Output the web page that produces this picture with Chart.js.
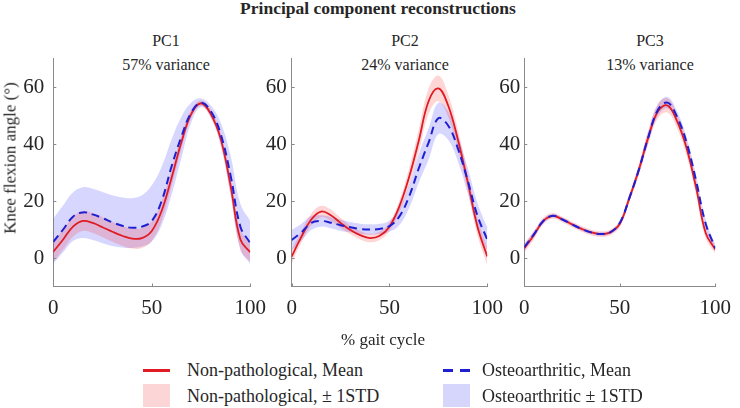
<!DOCTYPE html>
<html>
<head>
<meta charset="utf-8">
<script src="https://cdn.jsdelivr.net/npm/chart.js@4.4.1/dist/chart.umd.min.js"></script>
<style>
  html, body { margin: 0; padding: 0; background: #fff; }
  #wrap {
    position: relative; width: 740px; height: 408px; overflow: hidden;
    font-family: "Liberation Serif", "Times New Roman", serif; color: #262626;
  }
  .panel { position: absolute; top: 0; }
  .t { position: absolute; white-space: nowrap; line-height: 1; transform: translate(-50%, -50%); }
  .lg { position: absolute; white-space: nowrap; line-height: 1; font-size: 18px; transform: translateY(-50%); }
  .mk { position: absolute; }
</style>
</head>
<body>
<div id="wrap">
  <div class="t" style="left:378px;top:9px;font-size:17.5px;font-weight:bold;">Principal component reconstructions</div>

  <div class="t" style="left:166px;top:41px;font-size:16px;">PC1</div>
  <div class="t" style="left:166px;top:65px;font-size:16px;">57% variance</div>
  <div class="t" style="left:405px;top:41px;font-size:16px;">PC2</div>
  <div class="t" style="left:405px;top:65px;font-size:16px;">24% variance</div>
  <div class="t" style="left:650px;top:41px;font-size:16px;">PC3</div>
  <div class="t" style="left:650px;top:65px;font-size:16px;">13% variance</div>

  <canvas id="c1" class="panel" width="275" height="320" style="left:0px"></canvas>
  <canvas id="c2" class="panel" width="262" height="320" style="left:250px"></canvas>
  <canvas id="c3" class="panel" width="255" height="320" style="left:485px"></canvas>

  <div class="t" style="left:10px;top:158px;font-size:17px;transform:translate(-50%,-50%) rotate(-90deg);">Knee flexion angle (°)</div>
  <div class="t" style="left:383px;top:339px;font-size:17px;">% gait cycle</div>

  <div class="mk" style="left:143px;top:369px;width:27px;height:2.5px;background:#e01b24;"></div>
  <div class="lg" style="left:187px;top:370px;">Non-pathological, Mean</div>
  <div class="mk" style="left:443px;top:369px;width:10px;height:2.5px;background:#1f1fd2;"></div>
  <div class="mk" style="left:460px;top:369px;width:10px;height:2.5px;background:#1f1fd2;"></div>
  <div class="lg" style="left:482px;top:370px;">Osteoarthritic, Mean</div>

  <div class="mk" style="left:143px;top:384px;width:27px;height:23px;background:#fcd6d6;"></div>
  <div class="lg" style="left:187px;top:396px;">Non-pathological, ± 1STD</div>
  <div class="mk" style="left:443px;top:384px;width:27px;height:23px;background:#d6d6fc;"></div>
  <div class="lg" style="left:482px;top:396px;">Osteoarthritic ± 1STD</div>
</div>

<script>
// % gait cycle, sampled every 5%
const GAIT = [0, 5, 10, 15, 20, 25, 30, 35, 40, 45, 50, 55, 60, 65, 70, 75, 80, 85, 90, 95, 100];
const X_TICKS = [0, 50, 100];
const Y_TICKS = [0, 20, 40, 60];

// PC1
const PC1_NP_MEAN = [2.2, 6.5, 11, 13, 12.3, 10.8, 9.2, 7.8, 6.8, 7.0, 9.5, 16.5, 28, 40.5, 50.5, 54.3, 50.5, 41.8, 25.5, 6.5, 2];
const PC1_NP_LO = [-1.3, 3, 7.5, 9.5, 8.8, 7.3, 5.7, 4.3, 3.3, 3.5, 6, 13, 25, 38, 49, 53.3, 49, 39.8, 22.5, 3, -1.5];
const PC1_NP_HI = [5.7, 10, 14.5, 16.5, 15.8, 14.3, 12.7, 11.3, 10.3, 10.5, 13, 20, 31, 43, 52, 55.3, 52, 43.8, 28.5, 10, 5.5];
const PC1_OA_MEAN = [5.7, 10, 14.5, 16, 15.3, 14, 12.5, 11.3, 10.6, 11, 13, 20, 32, 42.5, 51, 54.5, 51.5, 43.5, 29, 11, 5.2];
const PC1_OA_LO = [-2, 2, 6, 7, 6.3, 5.2, 4.2, 3.7, 3.5, 4, 5.8, 11.5, 22, 35, 47.5, 53, 49.5, 39.5, 22, 3, -2];
const PC1_OA_HI = [13.8, 18.5, 23, 24.8, 24.3, 23.2, 22, 21.2, 21, 22, 25.5, 32, 41.5, 49.5, 54.5, 56, 53.5, 47.5, 36, 19, 13];

// PC2
const PC2_NP_MEAN = [0.5, 7.5, 13.5, 16.3, 15, 12.3, 9.8, 8, 7, 7.8, 11, 18, 28.3, 41.2, 55, 59.5, 53.5, 41.5, 26.7, 11, 0.5];
const PC2_NP_LO = [-2, 5.5, 11.5, 14.3, 13, 10.5, 8.3, 6.5, 5.5, 6.3, 9.5, 16, 25.3, 37.2, 50.5, 55, 49.5, 38, 23.7, 8, -2.5];
const PC2_NP_HI = [3, 9.5, 15.5, 18.3, 17, 14.1, 11.3, 9.5, 8.5, 9.3, 12.5, 20, 31.3, 45.2, 59.5, 64, 57.5, 45, 29.7, 14, 3.5];
const PC2_OA_MEAN = [6.3, 9, 12.3, 13, 12.4, 11.5, 10.8, 10.2, 10, 10.2, 11.2, 14.5, 21.5, 31.5, 40.5, 49, 46.5, 38.4, 27.2, 14.8, 6.5];
const PC2_OA_LO = [2.8, 6, 9.8, 11, 10.4, 9.5, 9, 8.4, 8.2, 8.4, 9.2, 11.5, 17.5, 26.5, 34.5, 43.5, 41.5, 33.9, 22.7, 10.3, 2.5];
const PC2_OA_HI = [9.8, 12, 14.8, 15, 14.4, 13.5, 12.6, 12, 11.8, 12, 13.2, 17.5, 25.5, 36.5, 45.5, 54.5, 51.5, 42.9, 31.7, 19.3, 10.5];

// PC3
const PC3_NP_MEAN = [3.4, 8, 13, 14.8, 13.5, 11.8, 10.2, 9, 8.4, 9, 12, 21, 31, 42.5, 51.5, 53.5, 48, 38.5, 24.6, 8.8, 3];
const PC3_NP_LO = [1.9, 6.5, 11.8, 13.8, 12.5, 10.8, 9.2, 8, 7.4, 8, 10.8, 19.5, 29, 40, 49, 51, 45.5, 36, 22.1, 6.8, 1.5];
const PC3_NP_HI = [4.9, 9.5, 14.2, 15.8, 14.5, 12.8, 11.2, 10, 9.4, 10, 13.2, 22.5, 33, 45, 54, 56, 50.5, 41, 27.1, 10.8, 4.5];
const PC3_OA_MEAN = [3.8, 8.3, 13, 14.8, 13.5, 11.8, 10.2, 9, 8.4, 9, 12.3, 21, 31, 42.5, 52, 54.5, 49.5, 40.5, 27, 12, 3.5];
const PC3_OA_LO = [2.6, 7.3, 12.2, 14.2, 12.9, 11.2, 9.6, 8.4, 7.8, 8.4, 11.5, 19.8, 29.5, 40.5, 50, 52.5, 47.5, 38.5, 25, 10.5, 2.3];
const PC3_OA_HI = [5, 9.3, 13.8, 15.4, 14.1, 12.4, 10.8, 9.6, 9, 9.6, 13.1, 22.2, 32.5, 44.5, 54, 56.5, 51.5, 42.5, 29, 13.5, 4.7];

const FONT = '"Liberation Serif", "Times New Roman", serif';
const AXIS = "#8a8a8a";
const RED = "#e01b24";
const BLUE = "#1f1fd2";
const RED_BAND = "rgba(255, 0, 0, 0.16)";
const BLUE_BAND = "rgba(0, 0, 255, 0.16)";

Chart.defaults.font.family = FONT;

function pts(values) {
  return GAIT.map((x, i) => ({ x, y: values[i] }));
}

// MATLAB style ticks, pointing into the plot
const inwardTicks = {
  id: "inwardTicks",
  afterDraw(chart) {
    const { ctx, chartArea: a, scales } = chart;
    ctx.save();
    ctx.strokeStyle = AXIS;
    ctx.lineWidth = 1;
    ctx.beginPath();
    X_TICKS.forEach((v) => {
      const p = Math.round(scales.x.getPixelForValue(v)) + 0.5;
      ctx.moveTo(p, a.bottom);
      ctx.lineTo(p, a.bottom - 3);
    });
    Y_TICKS.forEach((v) => {
      const p = Math.round(scales.y.getPixelForValue(v)) + 0.5;
      ctx.moveTo(a.left, p);
      ctx.lineTo(a.left + 3, p);
    });
    ctx.stroke();
    ctx.restore();
  },
};

function buildPanel(id, yWidth, yPad, padRight, s) {
  const bandLine = { borderWidth: 0, borderColor: "transparent", pointRadius: 0, tension: 0.4 };
  new Chart(document.getElementById(id), {
    type: "line",
    data: {
      datasets: [
        { ...bandLine, data: pts(s.npHi), backgroundColor: RED_BAND, fill: "+1", order: 10 },
        { ...bandLine, data: pts(s.npLo), fill: false, order: 10 },
        { ...bandLine, data: pts(s.oaHi), backgroundColor: BLUE_BAND, fill: "+1", order: 11 },
        { ...bandLine, data: pts(s.oaLo), fill: false, order: 11 },
        { data: pts(s.npMean), borderColor: RED, borderWidth: 1.8, pointRadius: 0, tension: 0.4, fill: false, order: 2 },
        { data: pts(s.oaMean), borderColor: BLUE, borderWidth: 2, borderDash: [8, 5], pointRadius: 0, tension: 0.4, fill: false, order: 1 },
      ],
    },
    options: {
      responsive: false,
      animation: false,
      events: [],
      layout: { padding: { top: 58.5, right: padRight, bottom: 0, left: 0 } },
      plugins: { legend: { display: false }, tooltip: { enabled: false } },
      scales: {
        x: {
          type: "linear",
          min: 0,
          max: 100,
          grid: { display: false, drawTicks: false },
          border: { color: AXIS, width: 1 },
          ticks: { font: { family: FONT, size: 21 }, color: "#262626", padding: 9, maxRotation: 0 },
          afterBuildTicks: (sc) => { sc.ticks = X_TICKS.map((v) => ({ value: v })); },
          afterFit: (sc) => { sc.height = 33.5; },
        },
        y: {
          min: -10,
          max: 70,
          grid: { display: false, drawTicks: false },
          border: { color: AXIS, width: 1 },
          ticks: { font: { family: FONT, size: 21 }, color: "#262626", padding: yPad },
          afterBuildTicks: (sc) => { sc.ticks = Y_TICKS.map((v) => ({ value: v })); },
          afterFit: (sc) => { sc.width = yWidth; },
        },
      },
    },
    plugins: [inwardTicks],
  });
}

buildPanel("c1", 53.3, 9, 20, {
  npMean: PC1_NP_MEAN, npLo: PC1_NP_LO, npHi: PC1_NP_HI,
  oaMean: PC1_OA_MEAN, oaLo: PC1_OA_LO, oaHi: PC1_OA_HI,
});
buildPanel("c2", 41.7, 5, 19.3, {
  npMean: PC2_NP_MEAN, npLo: PC2_NP_LO, npHi: PC2_NP_HI,
  oaMean: PC2_OA_MEAN, oaLo: PC2_OA_LO, oaHi: PC2_OA_HI,
});
buildPanel("c3", 39.3, 4, 14, {
  npMean: PC3_NP_MEAN, npLo: PC3_NP_LO, npHi: PC3_NP_HI,
  oaMean: PC3_OA_MEAN, oaLo: PC3_OA_LO, oaHi: PC3_OA_HI,
});
</script>
</body>
</html>
